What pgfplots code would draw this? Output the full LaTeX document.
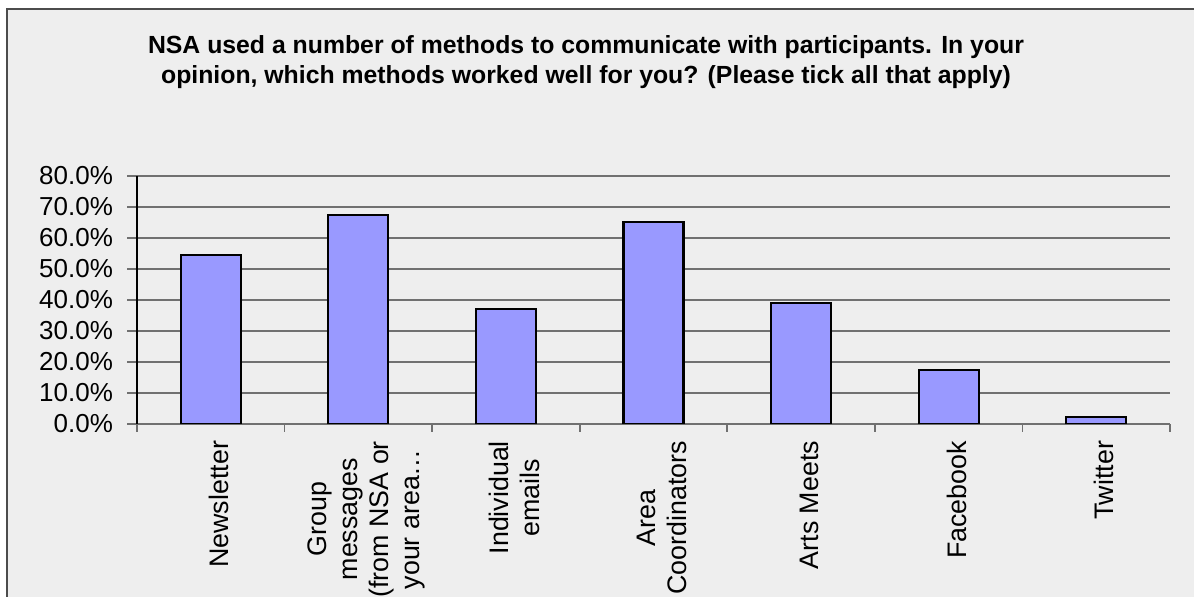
\documentclass[border=0pt]{standalone}
\usepackage{fontspec}
\setmainfont{Liberation Sans}
\usepackage{pgfplots}
\pgfplotsset{compat=1.18}
\definecolor{barfill}{HTML}{9999FF}
\definecolor{panel}{HTML}{EEEEEE}
\definecolor{gridc}{HTML}{707070}

\begin{document}
\begin{tikzpicture}
\useasboundingbox (0,0) rectangle (597pt,298.5pt);
\clip (0,0) rectangle (597pt,298.5pt);
% chart area panel
\fill[panel] (3.5pt,-5pt) rectangle (605pt,294pt);
\draw[black!70, line width=0.6pt] (3.5pt,-5pt) -- (3.5pt,294pt) -- (605pt,294pt);
% title
\node[font=\bfseries\fontsize{12.4}{15}\selectfont, align=center]
  at (293pt,267.5pt)
  {NSA used a number of methods to communicate with participants. In your\\
   opinion, which methods worked well for you? (Please tick all that apply)};
\begin{axis}[
  at={(68.5pt,86.5pt)}, anchor=south west,
  scale only axis, width=516.5pt, height=124pt,
  xmin=-0.5, xmax=6.5, ymin=0, ymax=80,
  axis lines*=left,
  x axis line style={gridc, line width=0.8pt},
  y axis line style={black, line width=0.6pt},
  ytick={0,10,...,80},
  ymajorgrids,
  grid style={gridc, line width=0.8pt},
  tick align=outside,
  major tick length=5pt,
  minor tick length=4pt,
  ytick style={gridc, line width=0.8pt},
  xtick=data,
  every major x tick/.style={draw=none},
  minor xtick={-0.5,0.5,...,6.5},
  xminorgrids=false,
  every minor x tick/.style={gridc, line width=0.8pt},
  xticklabels={Newsletter, {Group\\messages\\(from NSA or\\your area\ldots}, {Individual\\emails}, {Area\\Coordinators}, Arts Meets, Facebook, Twitter},
  xticklabel style={rotate=90, anchor=east, align=center,
    font=\fontsize{13.4}{15.5}\selectfont, yshift=-4pt},
  yticklabel={\pgfmathprintnumber[fixed,fixed zerofill,precision=1]{\tick}\%},
  yticklabel style={font=\fontsize{13}{15}\selectfont, xshift=-3.5pt},
  /pgf/number format/assume math mode=true,
  ybar, bar width=30pt,
]
\addplot[fill=barfill, draw=black, line width=1.1pt] coordinates {
  (0,54.4) (1,67.4) (2,37.2) (3,65.1) (4,39.1) (5,17.5) (6,2.3)
};
\end{axis}
\end{tikzpicture}
\end{document}
